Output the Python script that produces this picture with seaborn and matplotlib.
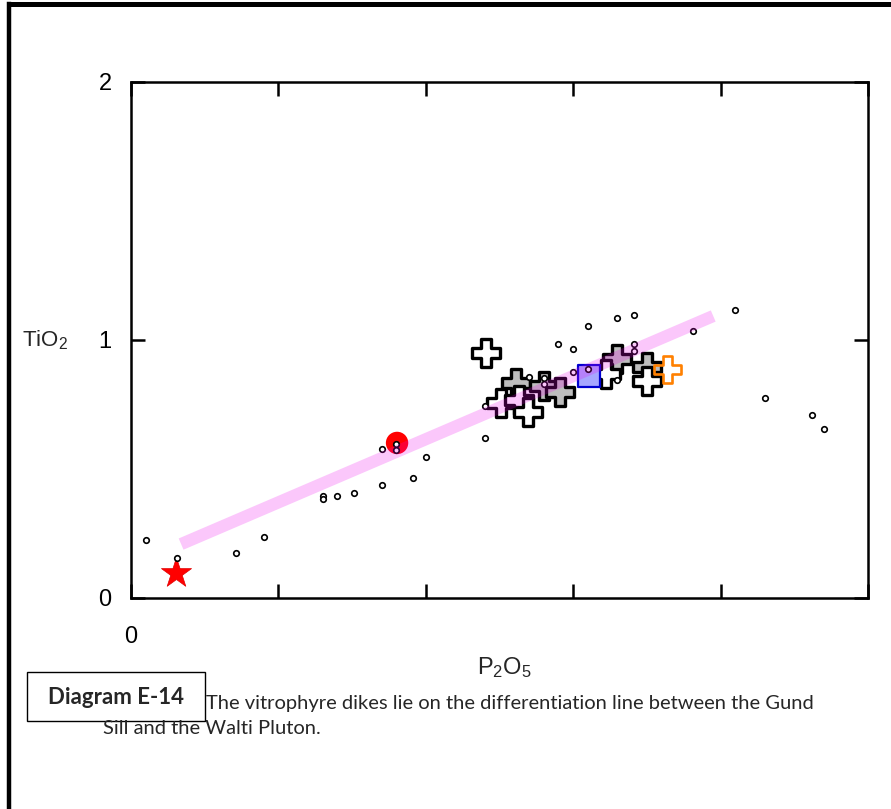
import matplotlib
matplotlib.use("Agg")
import matplotlib.pyplot as plt
import seaborn as sns
from matplotlib.lines import Line2D
from matplotlib.patches import Rectangle

# ---- whole-rock analyses, P2O5 vs TiO2 (wt%) ----
rock_p2o5 = [0.010, 0.031, 0.071, 0.090, 0.130, 0.130, 0.140, 0.151, 0.170, 0.191,
             0.200, 0.170, 0.180, 0.180, 0.240, 0.240, 0.290, 0.300, 0.310, 0.330,
             0.341, 0.341, 0.341, 0.381, 0.410, 0.430, 0.462, 0.470, 0.300, 0.330,
             0.270, 0.280, 0.310, 0.280]
rock_tio2 = [0.225, 0.155, 0.174, 0.236, 0.395, 0.384, 0.395, 0.407, 0.438, 0.465,
             0.547, 0.578, 0.597, 0.574, 0.744, 0.620, 0.984, 0.965, 1.054, 1.085,
             1.097, 0.984, 0.957, 1.035, 1.116, 0.775, 0.709, 0.655, 0.876, 0.845,
             0.857, 0.853, 0.888, 0.830]

# vitrophyre dikes
dike_gray_p2o5 = [0.261, 0.280, 0.291, 0.330, 0.350]
dike_gray_tio2 = [0.833, 0.822, 0.798, 0.926, 0.895]
dike_white_p2o5 = [0.241, 0.251, 0.263, 0.269, 0.322, 0.350]
dike_white_tio2 = [0.950, 0.756, 0.767, 0.721, 0.868, 0.841]
dike_orange_p2o5 = [0.364]
dike_orange_tio2 = [0.884]

# reference compositions
blue_p2o5, blue_tio2 = [0.311], [0.860]
gund_p2o5, gund_tio2 = [0.1805], [0.601]     # Gund Sill
walti_p2o5, walti_tio2 = [0.0305], [0.097]   # Walti Pluton

# differentiation line
trend_p2o5 = [0.034, 0.395]
trend_tio2 = [0.209, 1.093]

x_ticks = [0.0, 0.1, 0.2, 0.3, 0.4, 0.5]
x_tick_labels = ["0", "", "", "", "", ""]
y_ticks = [0, 1, 2]
y_tick_labels = ["0", "1", "2"]

sns.set_style("white")
plt.rcParams["font.family"] = ["Liberation Sans", "DejaVu Sans"]
plt.rcParams["mathtext.default"] = "regular"

fig = plt.figure(figsize=(8.91, 8.09), dpi=100)
W, H = 891, 809
ax = fig.add_axes([131 / W, 1 - 598 / H, (868 - 131) / W, (598 - 82) / H])

sns.scatterplot(x=dike_gray_p2o5, y=dike_gray_tio2, marker="P", s=380,
                color="#bdbdbd", edgecolor="black", linewidth=2.4, ax=ax, zorder=3)
sns.scatterplot(x=dike_white_p2o5, y=dike_white_tio2, marker="P", s=380,
                color="white", edgecolor="black", linewidth=2.4, ax=ax, zorder=3)
sns.scatterplot(x=dike_orange_p2o5, y=dike_orange_tio2, marker="P", s=380,
                color="none", edgecolor="#ff8000", linewidth=1.9, ax=ax, zorder=3)
sns.scatterplot(x=blue_p2o5, y=blue_tio2, marker="s", s=250,
                color="#a6a6ff", edgecolor="#0000d0", linewidth=1.6, ax=ax, zorder=3)
sns.scatterplot(x=gund_p2o5, y=gund_tio2, marker="o", s=260,
                color="#ff0000", edgecolor="none", linewidth=0, ax=ax, zorder=3)
sns.scatterplot(x=walti_p2o5, y=walti_tio2, marker="*", s=520,
                color="#ff0000", edgecolor="#e00000", linewidth=0.5, ax=ax, zorder=3)
sns.scatterplot(x=rock_p2o5, y=rock_tio2, marker="o", s=16,
                color="white", edgecolor="black", linewidth=1.2, ax=ax, zorder=4)
sns.lineplot(x=trend_p2o5, y=trend_tio2, sort=False, color="#ee00ee", alpha=0.22,
             linewidth=8.8, solid_capstyle="butt", ax=ax, zorder=5)

ax.set_xlim(0, 0.5)
ax.set_ylim(0, 2)
ax.set_xticks(x_ticks, x_tick_labels)
ax.set_yticks(y_ticks, y_tick_labels)
ax.tick_params(axis="both", direction="in", length=10, width=1.8, labelsize=17,
               colors="black", top=True, right=True, bottom=True, left=True)
ax.tick_params(axis="x", pad=20)
ax.tick_params(axis="y", pad=14)
for sp in ax.spines.values():
    sp.set_linewidth(1.8)
    sp.set_color("black")

ax.set_ylabel("TiO$_2$", rotation=0, ha="left", va="center", fontsize=16)
ax.yaxis.set_label_coords((22 - 131) / 737, (598 - 340) / 516)
ax.set_xlabel("P$_2$O$_5$", fontsize=17)
ax.xaxis.set_label_coords((504 - 131) / 737, (598 - 668) / 516)
ax.xaxis.label.set_va("center")

# caption box and text
fig.add_artist(Rectangle((27 / W, 1 - 721 / H), (205 - 27) / W, (721 - 672) / H,
                         transform=fig.transFigure, facecolor="white",
                         edgecolor="black", linewidth=1.0))
fig.text(116 / W, 1 - 697 / H, "Diagram E-14", fontsize=16, fontweight="bold",
         family=["Lato", "DejaVu Sans"], ha="center", va="center")
fig.text(206 / W, 1 - 703 / H,
         "The vitrophyre dikes lie on the differentiation line between the Gund",
         fontsize=14.5, family=["Lato", "DejaVu Sans"], ha="left", va="center")
fig.text(103 / W, 1 - 729 / H, "Sill and the Walti Pluton.",
         fontsize=14.5, family=["Lato", "DejaVu Sans"], ha="left", va="center")

# page frame
fig.add_artist(Line2D([9 / W, 9 / W], [0, 1 - 4 / H], transform=fig.transFigure,
                      color="black", linewidth=3.2, solid_capstyle="projecting"))
fig.add_artist(Line2D([9 / W, 1.0], [1 - 4 / H, 1 - 4 / H], transform=fig.transFigure,
                      color="black", linewidth=3.6, solid_capstyle="projecting"))

fig.savefig("out.png", dpi=100, facecolor="white")
